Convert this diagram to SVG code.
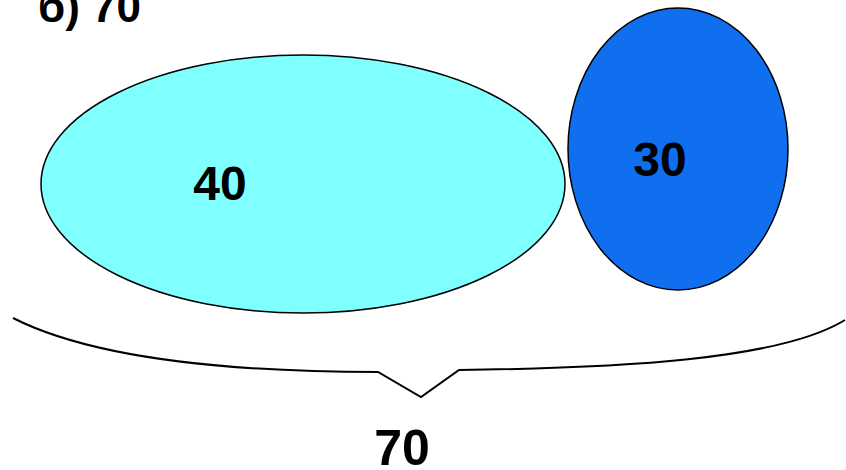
<svg xmlns="http://www.w3.org/2000/svg" width="846" height="470" viewBox="0 0 846 470">
<style>
.t{font-family:"Liberation Sans",Arial,sans-serif;font-weight:bold;fill:#000}
.e{stroke:#000;stroke-width:1.5}
</style>
<rect width="846" height="470" fill="#fff"/>
<text class="t" x="38" y="22" font-size="44">б) 70</text>
<g id="n40">
<ellipse class="e" cx="303" cy="184" rx="262" ry="129" fill="#80FFFF"/>
<text class="t" x="220" y="200" font-size="48" text-anchor="middle">40</text>
</g>
<g id="n30">
<ellipse class="e" cx="678" cy="149" rx="110" ry="141" fill="#0F6FEF"/>
<text class="t" x="660" y="176" font-size="48" text-anchor="middle">30</text>
</g>
<g id="connectors">
<path d="M13,318 C80,352 200,372 378,372 L421,397 L459,370 C620,368 780,360 845,320" fill="none" stroke="#000" stroke-width="2"/>
</g>
<text class="t" x="402" y="465" font-size="50" text-anchor="middle">70</text>
</svg>
